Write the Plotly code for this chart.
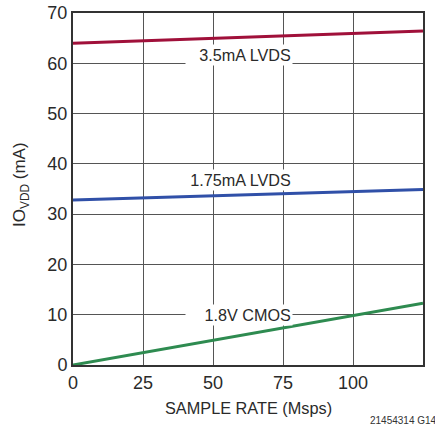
import plotly.graph_objects as go

sample_rate = [0, 125]
lvds_35 = [64.0, 66.4]
lvds_175 = [32.8, 34.9]
cmos_18 = [0.0, 12.3]

x_ticks = [0, 25, 50, 75, 100, 125]
y_ticks = [0, 10, 20, 30, 40, 50, 60, 70]

labels = ["3.5mA LVDS", "1.75mA LVDS", "1.8V CMOS"]
label_x = [78.6, 78.6, 78.6]
label_y = [61.7, 36.8, 10.0]

FONT = "Liberation Sans Narrow, Arial Narrow, sans-serif"
TXT = "#2a2a2a"

fig = go.Figure()
for ys, col in [(lvds_35, "#a0103a"), (lvds_175, "#3050a8"), (cmos_18, "#2e8b50")]:
    fig.add_trace(go.Scatter(x=sample_rate, y=ys, mode="lines",
                             line=dict(color=col, width=3), showlegend=False,
                             cliponaxis=False))

for t, xv, yv in zip(labels, label_x, label_y):
    fig.add_annotation(x=xv, y=yv, text=t, showarrow=False, xanchor="right",
                       yanchor="middle", bgcolor="white", borderpad=1,
                       width=104, align="right",
                       font=dict(family=FONT, size=16.2, color=TXT))

# axis titles
fig.add_annotation(x=0.5, y=0, xref="paper", yref="paper", yshift=-43,
                   text="SAMPLE RATE (Msps)", showarrow=False, xanchor="center",
                   yanchor="middle", font=dict(family=FONT, size=16.3, color=TXT))
fig.add_annotation(x=0, y=0.5, xref="paper", yref="paper", xshift=-52, yshift=4,
                   text="IO<sub>VDD</sub> (mA)", showarrow=False, textangle=-90,
                   xanchor="center", yanchor="middle",
                   font=dict(family=FONT, size=17, color=TXT))

fig.add_annotation(x=1, y=0, xref="paper", yref="paper", yshift=-55, xshift=16,
                   text="21454314 G14", showarrow=False, xanchor="right",
                   yanchor="middle", font=dict(family=FONT, size=10, color="#333"))

fig.update_layout(
    width=435, height=426,
    margin=dict(l=73, r=12, t=13, b=61, autoexpand=False),
    paper_bgcolor="white", plot_bgcolor="white",
    font=dict(family=FONT, size=18, color=TXT),
    xaxis=dict(range=[0, 125], tickvals=x_ticks, showgrid=True, automargin=False,
               gridcolor="#555", gridwidth=1, zeroline=False,
               showline=True, linecolor="#333", linewidth=2, mirror=True,
               ticks="", tickfont=dict(size=18)),
    yaxis=dict(range=[0, 70], tickvals=y_ticks, showgrid=True, automargin=False,
               gridcolor="#555", gridwidth=1, zeroline=False,
               showline=True, linecolor="#333", linewidth=2, mirror=True,
               ticks="", tickfont=dict(size=18)),
)

fig.write_html("out.html", config={"displayModeBar": False},
               post_script="document.body.style.margin='0';document.body.style.padding='0';")
